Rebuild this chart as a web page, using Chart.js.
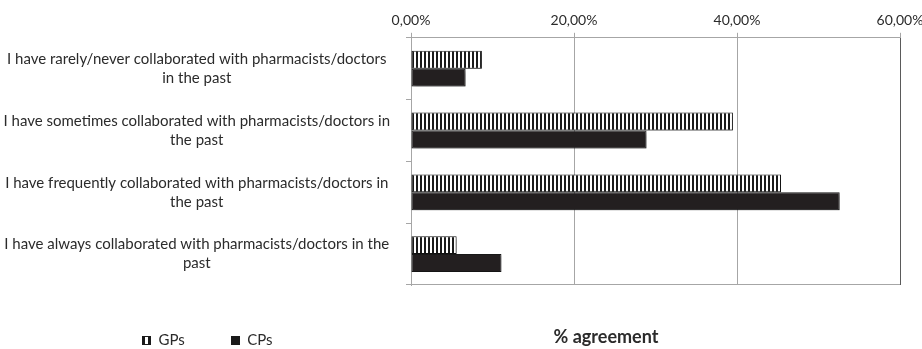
<!DOCTYPE html>
<html>
<head>
<meta charset="utf-8">
<script src="https://cdn.jsdelivr.net/npm/chart.js@4.4.0/dist/chart.umd.min.js"></script>
<style>
  html, body { margin: 0; padding: 0; background: #fff; }
  #wrap { width: 922px; height: 349px; }
</style>
</head>
<body>
<div id="wrap"><canvas id="myChart"></canvas></div>
<script>
var categories = [
    ['I have rarely/never collaborated with pharmacists/doctors', 'in the past'],
    ['I have sometimes collaborated with pharmacists/doctors in', 'the past'],
    ['I have frequently collaborated with pharmacists/doctors in', 'the past'],
    ['I have always collaborated with pharmacists/doctors in the', 'past']
];
var gpValues = [8.7, 39.5, 45.4, 5.6];
var cpValues = [6.7, 28.9, 52.6, 11.1];
var xTicks = [0, 20, 40, 60];

var textColor = '#2b2b2b';
var gridColor = '#a6a6a6';

// vertical stripes for the GP bars
function stripes() {
    var c = document.createElement('canvas');
    c.width = 4; c.height = 4;
    var g = c.getContext('2d');
    g.fillStyle = '#ffffff';
    g.fillRect(0, 0, 4, 4);
    g.fillStyle = '#1a1a1a';
    g.fillRect(0, 0, 2, 4);
    return g.createPattern(c, 'repeat');
}

// small legend icons
function legendIcon(striped) {
    var c = document.createElement('canvas');
    c.width = 9; c.height = 9;
    var g = c.getContext('2d');
    g.fillStyle = '#1a1a1a';
    g.fillRect(0, 0, 9, 9);
    if (striped) {
        g.fillStyle = '#ffffff';
        g.fillRect(3, 1, 3, 7);
    }
    return c;
}

var pct = function (v) { return v.toFixed(2).replace('.', ',') + '%'; };

var extras = {
    id: 'extras',
    beforeDatasetsDraw: function (chart) {
        var ctx = chart.ctx;
        ctx.save();
        ctx.shadowColor = 'rgba(0,0,0,0.35)';
        ctx.shadowBlur = 3;
        ctx.shadowOffsetX = 1;
        ctx.shadowOffsetY = 2;
    },
    afterDatasetsDraw: function (chart) {
        chart.ctx.restore();
    },
    beforeDraw: function (chart) {
        // legend sits under the category labels
        chart.legend.left = 96;
        chart.legend.top = 287;
    },
    afterDraw: function (chart) {
        var ctx = chart.ctx;
        ctx.save();
        ctx.font = 'bold 18px Lato';
        ctx.fillStyle = textColor;
        ctx.textAlign = 'center';
        ctx.textBaseline = 'middle';
        ctx.fillText('% agreement', 606, 337);
        ctx.restore();
    }
};

var ctx = document.getElementById('myChart').getContext('2d');
var chart = new Chart(ctx, {
    type: 'bar',
    data: {
        labels: categories,
        datasets: [{
            label: 'GPs',
            data: gpValues,
            backgroundColor: stripes(),
            borderColor: '#1a1a1a',
            borderWidth: 1,
            borderSkipped: false,
            categoryPercentage: 0.58,
            barPercentage: 1
        }, {
            label: 'CPs',
            data: cpValues,
            backgroundColor: '#231f20',
            borderColor: '#1a1a1a',
            borderWidth: 1,
            borderSkipped: false,
            categoryPercentage: 0.58,
            barPercentage: 1
        }]
    },
    options: {
        indexAxis: 'y',
        responsive: true,
        maintainAspectRatio: false,
        animation: false,
        layout: { padding: { top: 8, right: 0, left: 0, bottom: 0 } },
        scales: {
            x: {
                position: 'top',
                min: 0,
                max: 60,
                afterBuildTicks: function (scale) {
                    scale.ticks = xTicks.map(function (v) { return { value: v }; });
                },
                afterFit: function (scale) { scale.paddingRight = 22; },
                ticks: {
                    color: textColor,
                    font: { family: 'Lato', size: 14 },
                    padding: 4,
                    callback: function (v) { return pct(v); }
                },
                grid: {
                    color: function (c) {
                        return c.tick && c.tick.value === 60 ? '#5a5a5a' : gridColor;
                    },
                    tickColor: gridColor,
                    tickLength: 5
                },
                border: { color: gridColor }
            },
            y: {
                afterFit: function (scale) { scale.width = 411; },
                ticks: {
                    color: textColor,
                    crossAlign: 'center',
                    padding: 16,
                    font: { family: 'Lato', size: 15, lineHeight: 1.27 }
                },
                grid: {
                    offset: true,
                    drawOnChartArea: true,
                    color: function (c) {
                        return (c.type === 'scale' || c.index === 0) ? gridColor : 'rgba(0,0,0,0)';
                    },
                    tickColor: gridColor,
                    tickLength: 5
                },
                border: { color: gridColor }
            }
        },
        plugins: {
            legend: {
                position: 'bottom',
                align: 'start',
                maxHeight: 64,
                labels: {
                    color: textColor,
                    font: { family: 'Lato', size: 15 },
                    padding: 46,
                    usePointStyle: true,
                    boxWidth: 9,
                    boxHeight: 9,
                    generateLabels: function (chart) {
                        return chart.data.datasets.map(function (ds, i) {
                            return {
                                text: ds.label,
                                pointStyle: legendIcon(i === 0),
                                fontColor: textColor,
                                lineWidth: 0,
                                datasetIndex: i
                            };
                        });
                    }
                }
            },
            tooltip: { enabled: false }
        }
    },
    plugins: [extras]
});
</script>
</body>
</html>
